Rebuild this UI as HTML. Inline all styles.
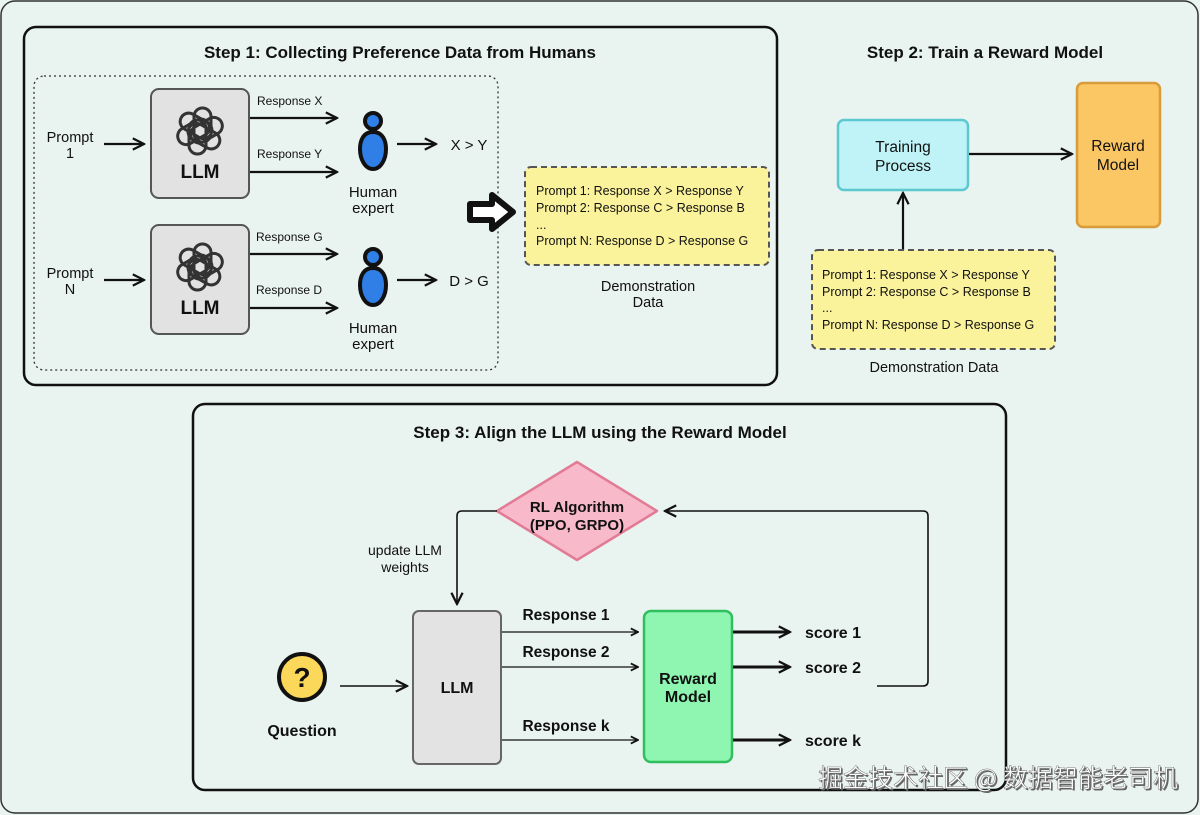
<!DOCTYPE html>
<html><head><meta charset="utf-8"><style>
html,body{margin:0;padding:0;background:#e9f3ef;}
svg{display:block;font-family:"Liberation Sans","Noto Sans CJK SC",sans-serif;}
.b{font-weight:bold;}
</style></head><body>
<svg width="1200" height="815" viewBox="0 0 1200 815" xmlns="http://www.w3.org/2000/svg">
<defs>
<marker id="a" viewBox="0 0 10 10" refX="9" refY="5" markerWidth="9" markerHeight="9" markerUnits="userSpaceOnUse" orient="auto"><path d="M1,1 L9,5 L1,9" fill="none" stroke="#111" stroke-width="2"/></marker>
<marker id="aL" viewBox="0 0 10 10" refX="9" refY="5" markerWidth="14" markerHeight="14" markerUnits="userSpaceOnUse" orient="auto"><path d="M1,1 L9,5 L1,9" fill="none" stroke="#111" stroke-width="1.6"/></marker>
<g id="logo" fill="none" stroke="#333" stroke-width="3">
<rect x="-6" y="-23" width="17" height="34" rx="8.5" transform="rotate(0)"/>
<rect x="-6" y="-23" width="17" height="34" rx="8.5" transform="rotate(60)"/>
<rect x="-6" y="-23" width="17" height="34" rx="8.5" transform="rotate(120)"/>
<rect x="-6" y="-23" width="17" height="34" rx="8.5" transform="rotate(180)"/>
<rect x="-6" y="-23" width="17" height="34" rx="8.5" transform="rotate(240)"/>
<rect x="-6" y="-23" width="17" height="34" rx="8.5" transform="rotate(300)"/>
</g>
<g id="human"><circle cx="0" cy="-24" r="8" fill="#2f7fe6" stroke="#111" stroke-width="4"/><path d="M0,-13 C10,-13 13,-4 13,4 C13,14 8,24 0,24 C-8,24 -13,14 -13,4 C-13,-4 -10,-13 0,-13Z" fill="#2f7fe6" stroke="#111" stroke-width="4"/></g>
</defs>
<rect x="1" y="1" width="1197" height="812" rx="14" fill="#e9f3ef" stroke="#333" stroke-width="1.5"/>

<!-- Step 1 -->
<rect x="24" y="27" width="753" height="358" rx="12" fill="#e9f3ef" stroke="#111" stroke-width="2.5"/>
<text x="400" y="58" text-anchor="middle" class="b" font-size="17" fill="#111">Step 1: Collecting Preference Data from Humans</text>
<rect x="34" y="76" width="464" height="294" rx="10" fill="none" stroke="#333" stroke-width="1.3" stroke-dasharray="2,3"/>

<rect x="151" y="89" width="98" height="109" rx="8" fill="#e2e2e2" stroke="#555" stroke-width="2"/>
<use href="#logo" x="200" y="131"/>
<text x="200" y="178" text-anchor="middle" class="b" font-size="19" fill="#111">LLM</text>
<rect x="151" y="225" width="98" height="109" rx="8" fill="#e2e2e2" stroke="#555" stroke-width="2"/>
<use href="#logo" x="200" y="267"/>
<text x="200" y="314" text-anchor="middle" class="b" font-size="19" fill="#111">LLM</text>

<g font-size="14.5" fill="#111" text-anchor="middle">
<text x="70" y="142">Prompt</text><text x="70" y="158">1</text>
<text x="70" y="278">Prompt</text><text x="70" y="294">N</text>
</g>
<g stroke="#111" stroke-width="2.2" marker-end="url(#aL)">
<line x1="104" y1="144" x2="144" y2="144"/>
<line x1="104" y1="280" x2="144" y2="280"/>
<line x1="250" y1="118" x2="337" y2="118"/>
<line x1="250" y1="172" x2="337" y2="172"/>
<line x1="250" y1="254" x2="337" y2="254"/>
<line x1="250" y1="308" x2="337" y2="308"/>
<line x1="397" y1="144" x2="436" y2="144"/>
<line x1="397" y1="280" x2="436" y2="280"/>
</g>
<g font-size="12" fill="#111">
<text x="257" y="105">Response X</text>
<text x="257" y="158">Response Y</text>
<text x="256" y="241">Response G</text>
<text x="256" y="294">Response D</text>
</g>
<use href="#human" x="373" y="145"/>
<use href="#human" x="373" y="281"/>
<g font-size="15" fill="#111" text-anchor="middle">
<text x="373" y="197">Human</text><text x="373" y="213">expert</text>
<text x="373" y="333">Human</text><text x="373" y="349">expert</text>
<text x="469" y="150">X &gt; Y</text>
<text x="469" y="286">D &gt; G</text>
</g>
<path d="M470,204 L492,204 L492,195 L513,212 L492,229 L492,220 L470,220 Z" fill="#fff" stroke="#111" stroke-width="6" stroke-linejoin="round"/>

<rect x="525" y="167" width="244" height="98" rx="6" fill="#fbf39c" stroke="#555" stroke-width="2" stroke-dasharray="6,4"/>
<g font-size="12.5" fill="#111">
<text x="536" y="195">Prompt 1: Response X &gt; Response Y</text>
<text x="536" y="212">Prompt 2: Response C &gt; Response B</text>
<text x="536" y="229">...</text>
<text x="536" y="245">Prompt N: Response D &gt; Response G</text>
</g>
<text x="648" y="291" text-anchor="middle" font-size="14.5" fill="#111">Demonstration</text>
<text x="648" y="307" text-anchor="middle" font-size="14.5" fill="#111">Data</text>

<!-- Step 2 -->
<text x="985" y="58" text-anchor="middle" class="b" font-size="17" fill="#111">Step 2: Train a Reward Model</text>
<rect x="838" y="120" width="130" height="70" rx="6" fill="#bff3f7" stroke="#5cc8d0" stroke-width="2.5"/>
<text x="903" y="152" text-anchor="middle" font-size="15.5" fill="#111">Training</text>
<text x="903" y="171" text-anchor="middle" font-size="15.5" fill="#111">Process</text>
<line x1="969" y1="154" x2="1072" y2="154" stroke="#111" stroke-width="2.2" marker-end="url(#aL)"/>
<rect x="1077" y="83" width="83" height="144" rx="6" fill="#fbc764" stroke="#d89c3a" stroke-width="2.5"/>
<text x="1118" y="151" text-anchor="middle" font-size="15.5" fill="#111">Reward</text>
<text x="1118" y="170" text-anchor="middle" font-size="15.5" fill="#111">Model</text>
<line x1="903" y1="250" x2="903" y2="193" stroke="#111" stroke-width="2.2" marker-end="url(#aL)"/>
<rect x="812" y="250" width="243" height="99" rx="6" fill="#fbf39c" stroke="#555" stroke-width="2" stroke-dasharray="6,4"/>
<g font-size="12.5" fill="#111">
<text x="822" y="279">Prompt 1: Response X &gt; Response Y</text>
<text x="822" y="296">Prompt 2: Response C &gt; Response B</text>
<text x="822" y="312">...</text>
<text x="822" y="329">Prompt N: Response D &gt; Response G</text>
</g>
<text x="934" y="372" text-anchor="middle" font-size="14.5" fill="#111">Demonstration Data</text>

<!-- Step 3 -->
<rect x="193" y="404" width="813" height="386" rx="12" fill="#e9f3ef" stroke="#111" stroke-width="2.5"/>
<text x="600" y="438" text-anchor="middle" class="b" font-size="17" fill="#111">Step 3: Align the LLM using the Reward Model</text>
<path d="M577,462 L657,511 L577,560 L497,511 Z" fill="#f8bacb" stroke="#e27c96" stroke-width="2.5" stroke-linejoin="round"/>
<text x="577" y="512" text-anchor="middle" class="b" font-size="15" fill="#111">RL Algorithm</text>
<text x="577" y="530" text-anchor="middle" class="b" font-size="15" fill="#111">(PPO, GRPO)</text>
<path d="M497,511 L462,511 Q457,511 457,516 L457,604" fill="none" stroke="#111" stroke-width="1.6" marker-end="url(#aL)"/>
<text x="405" y="555" text-anchor="middle" font-size="14" fill="#111">update LLM</text>
<text x="405" y="572" text-anchor="middle" font-size="14" fill="#111">weights</text>
<path d="M877,686 L923,686 Q928,686 928,681 L928,516 Q928,511 923,511 L665,511" fill="none" stroke="#111" stroke-width="1.6" marker-end="url(#aL)"/>

<rect x="413" y="611" width="88" height="153" rx="6" fill="#e3e3e3" stroke="#666" stroke-width="2"/>
<text x="457" y="693" text-anchor="middle" class="b" font-size="16" fill="#111">LLM</text>
<circle cx="302" cy="677" r="23" fill="#fbd85a" stroke="#111" stroke-width="4"/>
<text x="302" y="687" text-anchor="middle" class="b" font-size="28" fill="#111">?</text>
<text x="302" y="736" text-anchor="middle" class="b" font-size="16" fill="#111">Question</text>
<line x1="340" y1="686" x2="407" y2="686" stroke="#111" stroke-width="1.6" marker-end="url(#aL)"/>

<g stroke="#111" stroke-width="1.3" marker-end="url(#a)">
<line x1="502" y1="632" x2="638" y2="632"/>
<line x1="502" y1="667" x2="638" y2="667"/>
<line x1="502" y1="740" x2="638" y2="740"/>
</g>
<g font-size="15.5" class="b" fill="#111" text-anchor="middle">
<text x="566" y="620">Response 1</text>
<text x="566" y="657">Response 2</text>
<text x="566" y="731">Response k</text>
</g>
<rect x="644" y="611" width="88" height="151" rx="7" fill="#8ef6b1" stroke="#2fbf5e" stroke-width="2.5"/>
<text x="688" y="684" text-anchor="middle" class="b" font-size="16" fill="#111">Reward</text>
<text x="688" y="702" text-anchor="middle" class="b" font-size="16" fill="#111">Model</text>
<g stroke="#111" stroke-width="3" marker-end="url(#aL)">
<line x1="733" y1="632" x2="790" y2="632"/>
<line x1="733" y1="667" x2="790" y2="667"/>
<line x1="733" y1="740" x2="790" y2="740"/>
</g>
<g font-size="16" class="b" fill="#111">
<text x="805" y="638">score 1</text>
<text x="805" y="673">score 2</text>
<text x="805" y="746">score k</text>
</g>

<text x="1178" y="787" text-anchor="end" font-size="25" fill="#666" font-family="'Noto Sans CJK SC',sans-serif" transform="translate(1.5,1.5)">掘金技术社区 @ 数据智能老司机</text>
<text x="1178" y="787" text-anchor="end" font-size="25" fill="#fff" stroke="#555" stroke-width="0.4" font-family="'Noto Sans CJK SC',sans-serif">掘金技术社区 @ 数据智能老司机</text>
</svg>
</body></html>
